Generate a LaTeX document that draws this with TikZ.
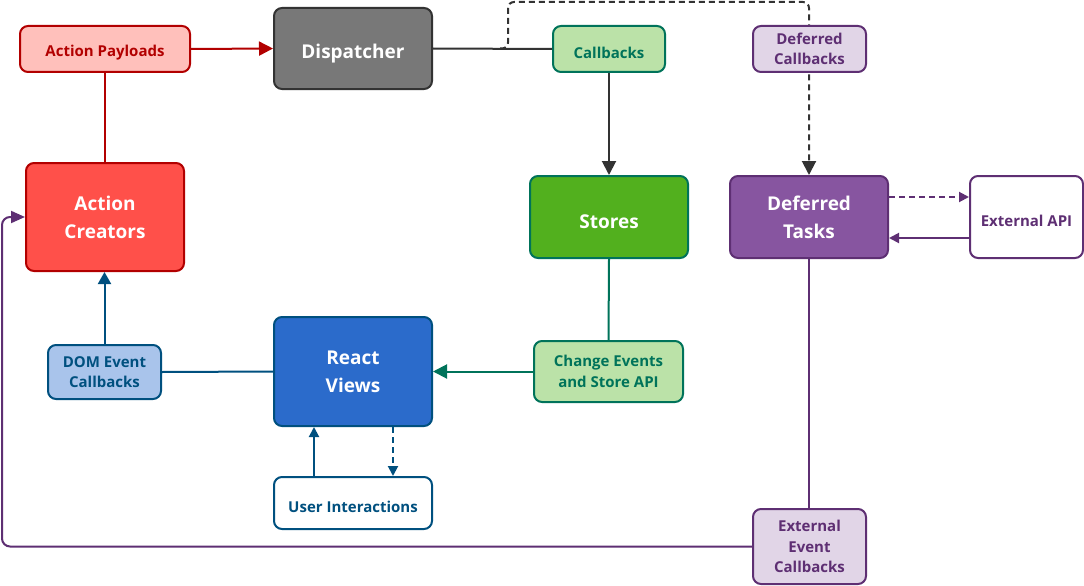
\documentclass[tikz,border=0pt]{standalone}
\usepackage{fontspec}
\setmainfont{Open Sans}
\usetikzlibrary{arrows.meta,positioning}
\definecolor{redline}{HTML}{B20000}
\definecolor{redfill}{HTML}{FF504A}
\definecolor{pinkfill}{HTML}{FFC0BB}
\definecolor{grayfill}{HTML}{787878}
\definecolor{grayline}{HTML}{333333}
\definecolor{teal}{HTML}{00735A}
\definecolor{lgreen}{HTML}{BBE2A8}
\definecolor{dgreen}{HTML}{52B01E}
\definecolor{purpline}{HTML}{5E2F73}
\definecolor{purpfill}{HTML}{8755A0}
\definecolor{lpurp}{HTML}{E1D5E7}
\definecolor{blueline}{HTML}{00507F}
\definecolor{bluefill}{HTML}{2B6BCB}
\definecolor{lblue}{HTML}{A9C4EB}
\tikzset{
    %Define standard arrow tip
    >={Triangle[length=14pt,width=14pt]},
    %Define style for boxes
    box/.style={
           rectangle, rounded corners=8pt,
           draw, line width=2pt,
           inner sep=0pt, align=center,
           minimum width=158pt,
           text=white,
           execute at begin node={\rule{0pt}{1.25em}},
           font=\fontsize{19}{28}\selectfont\bfseries},
    tag/.style={
           box,
           minimum width=113pt, minimum height=46pt,
           font=\fontsize{15}{20.5}\selectfont\bfseries},
    % Define arrow style
    pil/.style={
           ->,
           line width=2pt},
    small/.style={
           -{Triangle[length=10pt,width=10pt]},
           line width=2pt},
    dashline/.style={dash pattern=on 6pt off 4pt}
}
\begin{document}
\begin{tikzpicture}[x=1pt,y=-1pt]
\useasboundingbox (0,0) rectangle (1084,586);
%Nodes
\node[tag, draw=redline, fill=pinkfill, text=redline, minimum width=170pt] (payload) at (105,49) {Action Payloads};
\node[box, draw=grayline, fill=grayfill, minimum height=81pt] (disp) at (353,48.5) {Dispatcher};
\node[box, draw=redline, fill=redfill, minimum height=108pt] (creators) at (105,217) {Action\\Creators};
\node[tag, draw=teal, fill=lgreen, text=teal, minimum width=112pt] (callbacks) at (609,49) {Callbacks};
\node[box, draw=teal, fill=dgreen, minimum height=82pt] (stores) at (609,217) {Stores};
\node[box, draw=purpline, fill=purpfill, minimum height=82pt] (tasks) at (809,217) {Deferred\\Tasks};
\node[tag, draw=purpline, fill=white, text=purpline, minimum height=82pt] (extapi) at (1026.5,217) {External API};
\node[box, draw=blueline, fill=bluefill, minimum height=109pt] (views) at (353,371.5) {React\\Views};
\node[tag, draw=blueline, fill=lblue, text=blueline, minimum height=54pt] (dom) at (104.5,372) {DOM Event\\Callbacks};
\node[tag, draw=teal, fill=lgreen, text=teal, minimum width=149pt, minimum height=61pt] (change) at (608.5,371.5) {Change Events\\and Store API};
\node[tag, draw=blueline, fill=white, text=blueline, minimum width=158pt, minimum height=52pt] (user) at (353,503) {User Interactions};
\node[tag, draw=purpline, fill=lpurp, text=purpline, minimum height=75pt] (extcb) at (809.5,546.5) {External\\Event\\Callbacks};
%Connectors
\draw[pil, redline] (payload.east) -- (disp.west);
\draw[line width=2pt, redline] (creators.north) -- (payload.south);
\draw[line width=2pt, grayline] (disp.east) -- (callbacks.west);
\coordinate (split) at (500,48.5);
\coordinate (top) at (508,2);
\draw[pil, grayline, dashline, rounded corners=6pt] (split) -| (top) -| (tasks.north);
\node[tag, draw=purpline, fill=lpurp, text=purpline] (defcb) at (809.5,49) {Deferred\\Callbacks};
\draw[pil, grayline] (callbacks.south) -- (stores.north);
\draw[line width=2pt, teal] (stores.south) -- (change.north);
\draw[pil, teal] (change.west) -- (views.east);
\draw[line width=2pt, blueline] (views.west) -- (dom.east);
\draw[small, blueline, -{Triangle[length=12pt,width=13pt]}] (dom.north) -- (dom.north |- creators.south);
\draw[small, blueline] ([xshift=-39pt]user.north) -- ([xshift=-39pt]views.south);
\draw[small, blueline, dashline] ([xshift=40pt]views.south) -- ([xshift=40pt]user.north);
\draw[small, purpline, dashline] ([yshift=20pt]tasks.east) -- ([yshift=20pt]tasks.east -| extapi.west);
\draw[small, purpline] ([yshift=-21pt]extapi.west) -- ([yshift=-21pt]extapi.west -| tasks.east);
\draw[line width=2pt, purpline] (tasks.south) -- (tasks.south |- extcb.north);
\coordinate (leftc) at (2,300);
\draw[pil, purpline, -{Triangle[length=14pt,width=12pt]}, rounded corners=8pt] (extcb.west) -| (leftc) |- (creators.west);
\end{tikzpicture}
\end{document}
